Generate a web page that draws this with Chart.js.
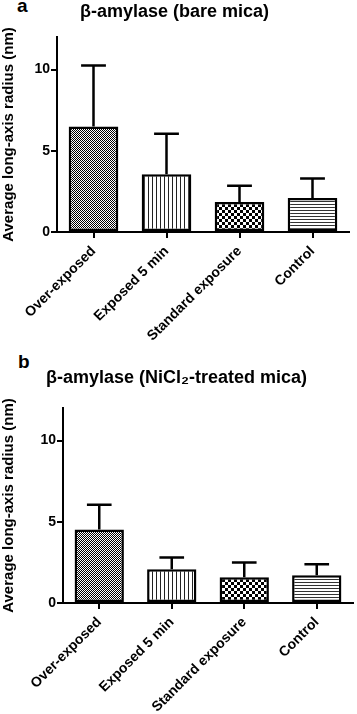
<!DOCTYPE html>
<html>
<head>
<meta charset="utf-8">
<script src="https://cdn.jsdelivr.net/npm/chart.js@4"></script>
<style>
  html, body { margin: 0; padding: 0; background: #fff; overflow: hidden; width: 357px; height: 714px; }
  .panel { position: absolute; left: 0; }
  .letter { position: absolute; font: bold 19px "Liberation Sans", Arial, sans-serif; line-height: 19px; color: #000; }
</style>
</head>
<body>
<div class="letter" style="left:17px; top:-4px;">a</div>
<div class="letter" style="left:18px; top:352px;">b</div>
<div class="panel" id="wa" style="top:0; width:365px; height:357px;"><canvas id="ca"></canvas></div>
<div class="panel" id="wb" style="top:357px; width:378px; height:357px;"><canvas id="cb"></canvas></div>
<script>
// ---- data ----
const categories = ["Over-exposed", "Exposed 5 min", "Standard exposure", "Control"];
const titleA = "β-amylase (bare mica)";
const titleB = "β-amylase (NiCl₂-treated mica)";
const yAxisTitle = "Average long-axis radius (nm)";
const yTickValues = [0, 5, 10];
const yMax = 12;
const meanA = [6.5, 3.55, 1.85, 2.1];
const sdA = [3.75, 2.5, 1.0, 1.2];
const meanB = [4.53, 2.07, 1.59, 1.71];
const sdB = [1.52, 0.73, 0.9, 0.68];

const FONT = '"Liberation Sans", Arial, sans-serif';

function makePattern(kind) {
  const c = document.createElement('canvas');
  const g = c.getContext('2d');
  if (kind === 'fine') {
    c.width = 2; c.height = 2;
    g.fillStyle = '#fff'; g.fillRect(0, 0, 2, 2);
    g.fillStyle = '#000'; g.fillRect(0, 0, 1, 1); g.fillRect(1, 1, 1, 1);
  } else if (kind === 'vert') {
    c.width = 4; c.height = 4;
    g.fillStyle = '#fff'; g.fillRect(0, 0, 4, 4);
    g.fillStyle = '#222'; g.fillRect(0, 0, 1, 4);
  } else if (kind === 'coarse') {
    c.width = 6; c.height = 6;
    g.fillStyle = '#fff'; g.fillRect(0, 0, 6, 6);
    g.fillStyle = '#000'; g.fillRect(0, 0, 3, 3); g.fillRect(3, 3, 3, 3);
  } else {
    c.width = 4; c.height = 3;
    g.fillStyle = '#fff'; g.fillRect(0, 0, 4, 3);
    g.fillStyle = '#333'; g.fillRect(0, 0, 4, 1);
  }
  return g.createPattern(c, 'repeat');
}

const errorBars = {
  id: 'errorBars',
  afterDatasetsDraw(chart) {
    const ctx = chart.ctx;
    const ys = chart.scales.y;
    chart.data.datasets.forEach((ds, di) => {
      const meta = chart.getDatasetMeta(di);
      const errs = ds.errors || [];
      meta.data.forEach((el, i) => {
        const top = ys.getPixelForValue(ds.data[i] + errs[i]);
        const base = el.y;
        const half = el.width / 4;
        ctx.save();
        ctx.strokeStyle = '#000';
        ctx.lineWidth = 2.5;
        ctx.beginPath();
        ctx.moveTo(el.x, base);
        ctx.lineTo(el.x, top);
        ctx.moveTo(el.x - half, top);
        ctx.lineTo(el.x + half, top);
        ctx.stroke();
        ctx.restore();
      });
    });
  }
};

function build(canvasId, title, means, sds, opt) {
  const patterns = [makePattern('fine'), makePattern('vert'), makePattern('coarse'), makePattern('horiz')];
  return new Chart(document.getElementById(canvasId), {
    type: 'bar',
    data: {
      labels: categories,
      datasets: [{
        data: means,
        errors: sds,
        backgroundColor: patterns,
        borderColor: '#000',
        borderWidth: 2.5,
        borderSkipped: false,
        categoryPercentage: 1,
        barPercentage: 0.68
      }]
    },
    options: {
      responsive: true,
      maintainAspectRatio: false,
      animation: false,
      devicePixelRatio: 1,
      layout: { padding: { left: 0, right: opt.padRight, top: 0, bottom: 0 } },
      plugins: {
        legend: { display: false },
        tooltip: { enabled: false },
        title: {
          display: true,
          text: title,
          color: '#000',
          font: { family: FONT, size: 18, weight: 'bold', lineHeight: 1.2 },
          padding: { top: opt.titleTop, bottom: opt.titleBottom }
        }
      },
      scales: {
        x: {
          offset: true,
          grid: { display: true, drawOnChartArea: false, drawTicks: true, tickLength: 6, color: '#000', lineWidth: 2, offset: false },
          border: { display: true, color: '#000', width: 2 },
          ticks: { color: '#000', font: { family: FONT, size: 14, weight: 'bold' }, maxRotation: 45, minRotation: 45, padding: 5, autoSkip: false },
          afterFit(s) { s.height = opt.xHeight; }
        },
        y: {
          min: 0, max: yMax,
          grid: { display: true, drawOnChartArea: false, drawTicks: true, tickLength: 6, color: '#000', lineWidth: 2 },
          border: { display: true, color: '#000', width: 2 },
          ticks: { color: '#000', font: { family: FONT, size: 14, weight: 'bold' }, padding: 1 },
          afterBuildTicks(s) { s.ticks = yTickValues.map(v => ({ value: v })); },
          title: { display: true, text: yAxisTitle, color: '#000', font: { family: FONT, size: 15, weight: 'bold' }, padding: { top: 0, bottom: 0 } },
          afterFit(s) { s.width = opt.yWidth; }
        }
      }
    },
    plugins: [errorBars]
  });
}

build('ca', titleA, meanA, sdA, { padRight: 16, titleTop: 1, titleBottom: 14.4, xHeight: 125, yWidth: 57 });
build('cb', titleB, meanB, sdB, { padRight: 25, titleTop: 10, titleBottom: 19.4, xHeight: 111, yWidth: 63 });
</script>
</body>
</html>
